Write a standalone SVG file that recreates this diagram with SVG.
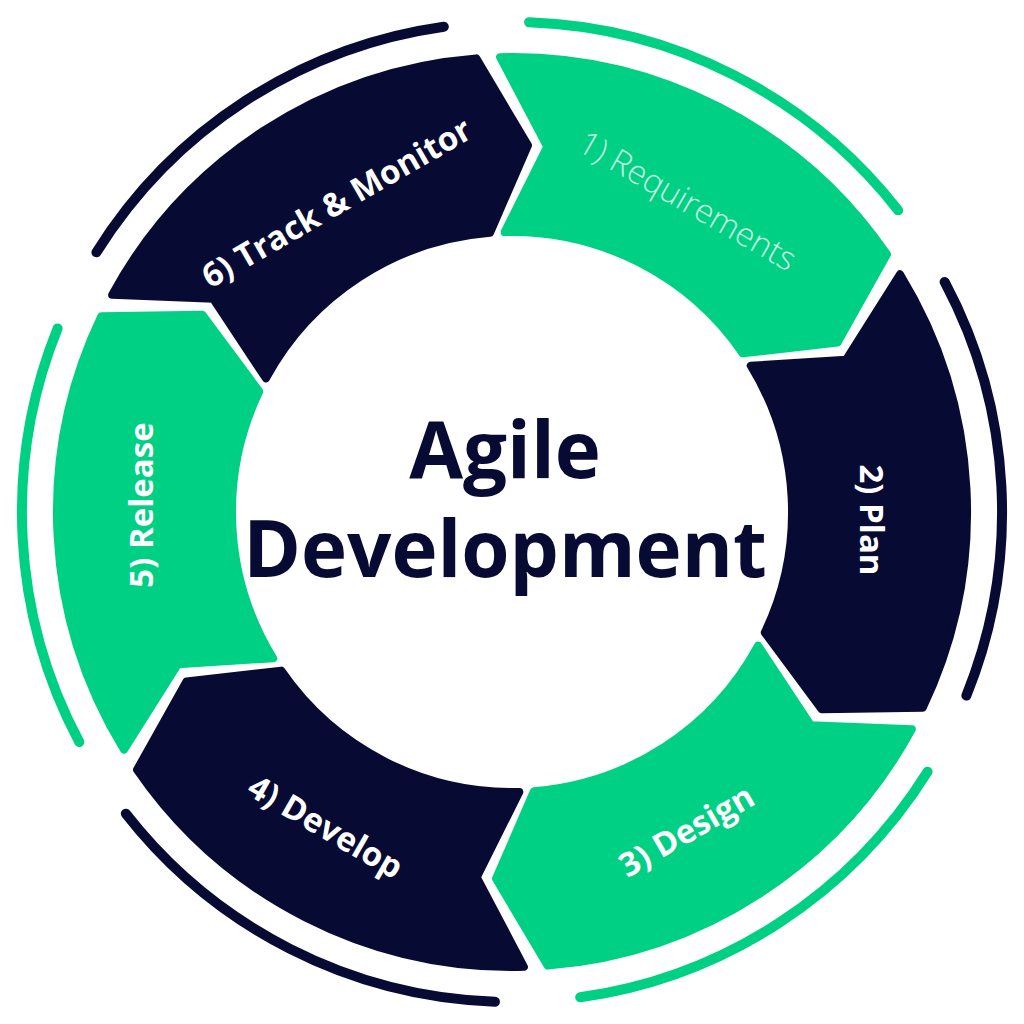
<svg xmlns="http://www.w3.org/2000/svg" xmlns:xlink="http://www.w3.org/1999/xlink" width="1024" height="1024" viewBox="0 0 1024 1024">
<style>
.g{fill:#00d084;stroke:#00d084}
.d{fill:#070b33;stroke:#070b33}
.seg{stroke-width:8;stroke-linejoin:round}
.ag{fill:none;stroke:#00d084;stroke-width:10;stroke-linecap:round}
.ad{fill:none;stroke:#070b33;stroke-width:10;stroke-linecap:round}
.lb{font-family:"Open Sans","Liberation Sans",sans-serif;font-weight:700;font-size:33px;fill:#ffffff;text-anchor:middle;dominant-baseline:central}
.ct{font-family:"Open Sans","Liberation Sans",sans-serif;font-weight:700;font-size:78px;fill:#070b33;text-anchor:middle}
</style>
<defs>
<path id="seg" d="M -217.1,-399.9 A455 455 0 0 1 217.1,-399.9 L 213.1,-298.8 L 133.6,-246.1 A280 280 0 0 0 -133.6,-246.1 L -134.5,-341.5 Z"/>
<path id="arc" d="M -222.5,-436.6 A490 490 0 0 1 191.5,-451.1"/>
</defs>
<g id="arcs">
<use xlink:href="#arc" class="ag" transform="translate(512 512) rotate(29)"/>
<use xlink:href="#arc" class="ad" transform="translate(512 512) rotate(89)"/>
<use xlink:href="#arc" class="ag" transform="translate(512 512) rotate(149)"/>
<use xlink:href="#arc" class="ad" transform="translate(512 512) rotate(209)"/>
<use xlink:href="#arc" class="ag" transform="translate(512 512) rotate(269)"/>
<use xlink:href="#arc" class="ad" transform="translate(512 512) rotate(329)"/>
</g>
<g id="n1"><use xlink:href="#seg" class="g seg" transform="translate(512 512) rotate(27)"/>
<text class="lb" style="font-weight:300;fill:#c8f5e2" transform="translate(688 200) rotate(30)">1) Requirements</text></g>
<g id="n2"><use xlink:href="#seg" class="d seg" transform="translate(512 512) rotate(87)"/>
<text class="lb" transform="translate(872 520) rotate(90)">2) Plan</text></g>
<g id="n3"><use xlink:href="#seg" class="g seg" transform="translate(512 512) rotate(147)"/>
<text class="lb" transform="translate(686 830) rotate(-30)">3) Design</text></g>
<g id="n4"><use xlink:href="#seg" class="d seg" transform="translate(512 512) rotate(207)"/>
<text class="lb" transform="translate(326 826) rotate(30)">4) Develop</text></g>
<g id="n5"><use xlink:href="#seg" class="g seg" transform="translate(512 512) rotate(267)"/>
<text class="lb" transform="translate(140 505) rotate(-90)">5) Release</text></g>
<g id="n6"><use xlink:href="#seg" class="d seg" transform="translate(512 512) rotate(327)"/>
<text class="lb" transform="translate(336 202) rotate(-30)">6) Track &amp; Monitor</text></g>
<g id="center">
<text class="ct" x="505" y="478">Agile</text>
<text class="ct" x="505" y="577">Development</text>
</g>
</svg>
